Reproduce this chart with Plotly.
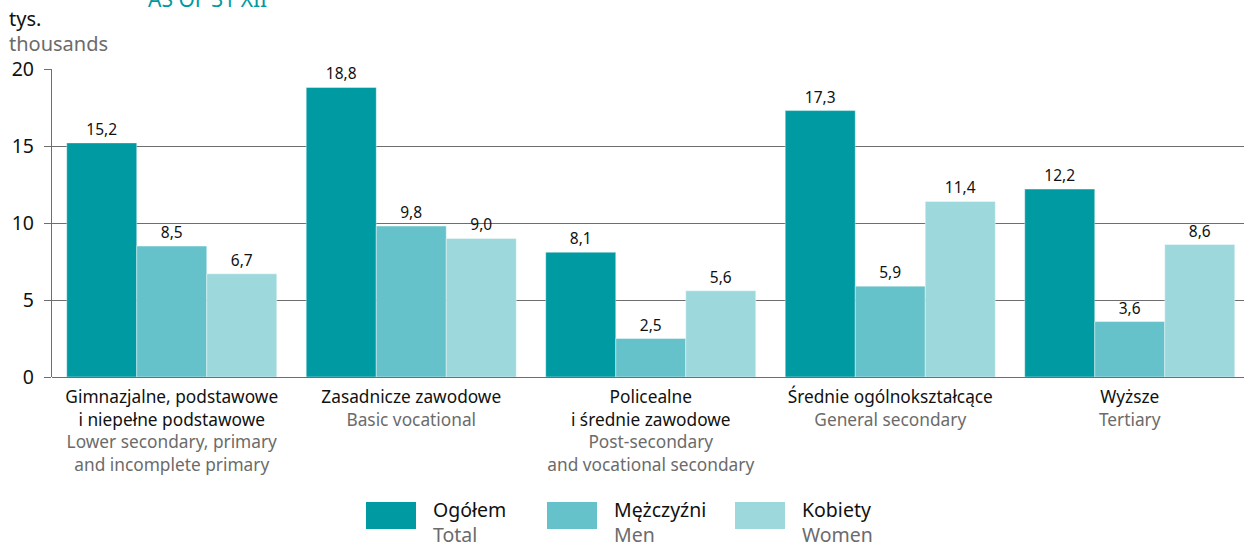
import plotly.graph_objects as go

categories_pl = [
    "Gimnazjalne, podstawowe<br>i niepełne podstawowe",
    "Zasadnicze zawodowe",
    "Policealne<br>i średnie zawodowe",
    "Średnie ogólnokształcące",
    "Wyższe",
]
categories_en = [
    "Lower secondary, primary<br>and incomplete primary",
    "Basic vocational",
    "Post-secondary<br>and vocational secondary",
    "General secondary",
    "Tertiary",
]
total = [15.2, 18.8, 8.1, 17.3, 12.2]
men = [8.5, 9.8, 2.5, 5.9, 3.6]
women = [6.7, 9.0, 5.6, 11.4, 8.6]
series_pl = ["Ogółem", "Mężczyźni", "Kobiety"]
series_en = ["Total", "Men", "Women"]
colors = ["#009aa3", "#66c2ca", "#9dd8dc"]
y_ticks = [0, 5, 10, 15, 20]

FONT = "Noto Sans, sans-serif"
GREY = "#6b6b6b"

W, H = 1244, 543
L, R, T, B = 52, 0, 69, 166

x_idx = list(range(len(categories_pl)))
def grey_lines(s):
    return "<br>".join(f"<span style='color:{GREY}'>{part}</span>" for part in s.split("<br>"))

ticktext = [f"{pl}<br>{grey_lines(en)}" for pl, en in zip(categories_pl, categories_en)]

fig = go.Figure()
for name, vals, col in zip(series_pl, [total, men, women], colors):
    fig.add_trace(go.Bar(
        x=x_idx, y=vals, name=name,
        marker=dict(color=col, line=dict(color="rgba(255,255,255,0.5)", width=0.8)),
        texttemplate="%{y:.1f}", textposition="outside",
        textfont=dict(family=FONT, size=15.5, color="#111"),
        cliponaxis=False, showlegend=False,
    ))

fig.update_layout(
    width=W, height=H,
    margin=dict(l=L, r=R, t=T, b=B, pad=0),
    barmode="group", bargap=0.123, bargroupgap=0,
    separators=", ",
    plot_bgcolor="white", paper_bgcolor="white",
    font=dict(family=FONT, size=16, color="#111"),
    xaxis=dict(
        tickmode="array", tickvals=x_idx, ticktext=ticktext,
        range=[-0.5, 4.477], showgrid=False, ticks="",
        tickfont=dict(family=FONT, size=17.3, color="#111"),
        showline=False, zeroline=False, ticklabelstandoff=8,
    ),
    yaxis=dict(
        range=[0, 20], tickvals=y_ticks, ticktext=[str(v) for v in y_ticks],
        showgrid=True, gridcolor="#6e6e6e", gridwidth=1,
        zeroline=True, zerolinecolor="#6e6e6e", zerolinewidth=1.2,
        showline=True, linecolor="#6e6e6e", linewidth=1.2,
        ticks="outside", ticklen=7, tickcolor="#6e6e6e",
        tickfont=dict(family=FONT, size=19.5, color="#111"),
        ticklabelstandoff=6,
    ),
)

ph = H - T - B
pw = W - L - R

def px_x(px):
    return (px - L) / pw

def px_y(py):
    return (H - B - py) / ph

annotations = [
    dict(text="tys.", x=7, y=18, size=20, color="#111"),
    dict(text="thousands", x=7, y=44, size=20, color=GREY),
    dict(text="AS OF 31 XII", x=146, y=-1, size=21, color="#009aa3"),
]
for a in annotations:
    fig.add_annotation(
        text=a["text"], xref="paper", yref="paper",
        x=px_x(a["x"]), y=px_y(a["y"]), xanchor="left", yanchor="middle",
        showarrow=False, font=dict(family=FONT, size=a["size"], color=a["color"]),
    )

# custom legend
sw_x = [366, 547, 735]
for sx, pl, en, col in zip(sw_x, series_pl, series_en, colors):
    fig.add_shape(type="rect", xref="paper", yref="paper",
                  x0=px_x(sx), x1=px_x(sx + 50), y0=px_y(529), y1=px_y(502),
                  fillcolor=col, line=dict(width=0))
    fig.add_annotation(text=pl, xref="paper", yref="paper",
                       x=px_x(sx + 65), y=px_y(509), xanchor="left", yanchor="middle",
                       showarrow=False, font=dict(family=FONT, size=19.5, color="#111"))
    fig.add_annotation(text=en, xref="paper", yref="paper",
                       x=px_x(sx + 65), y=px_y(534), xanchor="left", yanchor="middle",
                       showarrow=False, font=dict(family=FONT, size=19.5, color=GREY))

fig.write_html("out.html", config={"displayModeBar": False},
               post_script="document.body.style.margin='0';document.body.style.overflow='hidden';")
